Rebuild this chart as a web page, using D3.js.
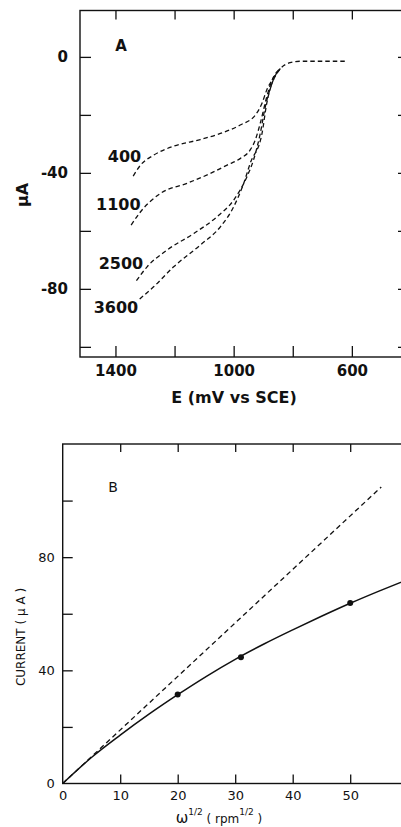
<!DOCTYPE html>
<html>
<head>
<meta charset="utf-8">
<script src="https://cdn.jsdelivr.net/npm/d3@7"></script>
<style>
  body { margin: 0; background: #fff; }
  svg { display: block; }
  .pa text { font-family: "DejaVu Sans", sans-serif; font-weight: bold; fill: #111; }
  .pb text { font-family: "DejaVu Sans", sans-serif; fill: #111; }
</style>
</head>
<body>
<svg id="chart" width="401" height="827"></svg>
<script>
// Panel A: current vs potential at several rotation rates (rpm)
const rates = ['400', '1100', '2500', '3600'];
const potentials = [
  [1340, 1315, 1271, 1203, 1113, 1045, 978, 927, 904, 888, 870, 842, 809, 775, 700, 617],
  [1347, 1315, 1248, 1158, 1079, 1022, 977, 944, 927, 910, 888, 870, 842],
  [1329, 1293, 1225, 1135, 1056, 1000, 955, 933, 910, 893, 870, 842],
  [1318, 1271, 1203, 1113, 1045, 1000, 966, 944, 904, 888, 870, 842]
];
const currents = [
  [-41.1, -37.3, -33.9, -30.8, -28.5, -26.4, -23.5, -20.1, -16.0, -11.4, -8.0, -4.0, -2.0, -1.5, -1.5, -1.5],
  [-58.0, -53.4, -47.1, -43.6, -40.2, -37.3, -35.0, -32.1, -28.7, -22.9, -13.8, -8.0, -4.0],
  [-77.2, -72.4, -66.6, -60.9, -55.1, -49.4, -41.3, -35.6, -26.4, -17.2, -9.1, -4.0],
  [-83.5, -79.3, -72.4, -64.9, -58.6, -51.7, -43.6, -36.7, -26.4, -16.0, -9.1, -4.0]
];
const rateLabelE = [1313, 1315, 1306, 1323];
const rateLabelI = [-36.2, -52.8, -73.2, -88.2];
const aTicksX = [1400, 1200, 1000, 800, 600];
const aLabelsX = [1400, 1000, 600];
const aTicksY = [0, -20, -40, -60, -80, -100];
const aLabelsY = [0, -40, -80];

// Panel B: limiting current vs square root of rotation rate
const omega = [0, 5, 10, 15, 20, 25, 30, 35, 40, 45, 50, 55, 60];
const fitCurrent = [0, 9.2, 17.1, 24.5, 31.4, 37.9, 43.9, 49.3, 54.3, 59.1, 63.7, 68.0, 72.1];
const levichOmega = [0, 55.4];
const levichCurrent = [0, 104.8];
const measOmega = [20, 31, 50];
const measCurrent = [31.5, 44.6, 63.8];
const bTicksX = [10, 20, 30, 40, 50, 60];
const bLabelsX = [0, 10, 20, 30, 40, 50];
const bTicksY = [20, 40, 60, 80, 100];
const bLabelsY = [0, 40, 80];

const plain = d => String(d);   // keep the hyphen, no thousands comma
const svg = d3.select('#chart');

// ---------- Panel A ----------
const xA = d3.scaleLinear().domain([1520, 410]).range([80, 408]);
const yA = d3.scaleLinear().domain([16, -103.5]).range([10.5, 357]);
const gA = svg.append('g').attr('class', 'pa');

gA.append('rect')
  .attr('x', xA.range()[0]).attr('y', yA.range()[0])
  .attr('width', xA.range()[1] - xA.range()[0])
  .attr('height', yA.range()[1] - yA.range()[0])
  .attr('fill', 'none').attr('stroke', '#111').attr('stroke-width', 1.4);

function tickMarks(g, axis) {
  g.call(axis);
  g.select('.domain').remove();
  g.selectAll('line').attr('stroke', '#111').attr('stroke-width', 1.3);
}
function tickLabels(g, axis, size) {
  g.call(axis);
  g.select('.domain').remove();
  g.selectAll('line').remove();
  g.selectAll('text').attr('font-size', size).attr('fill', '#111');
  g.attr('font-family', null).attr('font-size', null);
}

gA.append('g').attr('transform', `translate(0,${yA.range()[1]})`)
  .call(tickMarks, d3.axisBottom(xA).tickValues(aTicksX).tickSize(-11).tickFormat(''));
gA.append('g').attr('transform', `translate(0,${yA.range()[0]})`)
  .call(tickMarks, d3.axisTop(xA).tickValues(aTicksX).tickSize(-9).tickFormat(''));
gA.append('g').attr('transform', `translate(${xA.range()[0]},0)`)
  .call(tickMarks, d3.axisLeft(yA).tickValues(aTicksY).tickSize(-11).tickFormat(''));
gA.append('g').attr('transform', `translate(${xA.range()[1]},0)`)
  .call(tickMarks, d3.axisRight(yA).tickValues(aTicksY).tickSize(-10).tickFormat(''));

gA.append('g').attr('transform', `translate(0,${yA.range()[1]})`)
  .call(tickLabels, d3.axisBottom(xA).tickValues(aLabelsX).tickSize(0).tickPadding(8).tickFormat(plain), 15);
gA.append('g').attr('transform', `translate(${xA.range()[0]},0)`)
  .call(tickLabels, d3.axisLeft(yA).tickValues(aLabelsY).tickSize(0).tickPadding(12).tickFormat(plain), 15);

const lineA = d3.line().x(d => xA(d[0])).y(d => yA(d[1])).curve(d3.curveMonotoneX);
rates.forEach((r, i) => {
  const pts = potentials[i].map((e, j) => [e, currents[i][j]]);
  gA.append('path')
    .attr('d', lineA(pts))
    .attr('fill', 'none').attr('stroke', '#111')
    .attr('stroke-width', 1.3).attr('stroke-dasharray', '4.5,3');
  gA.append('text')
    .attr('x', xA(rateLabelE[i])).attr('y', yA(rateLabelI[i]))
    .attr('text-anchor', 'end').attr('font-size', 16)
    .text(r);
});

gA.append('text').attr('x', xA(1381)).attr('y', yA(2.1))
  .attr('text-anchor', 'middle').attr('font-size', 15).text('A');
gA.append('text').attr('x', 234).attr('y', 403)
  .attr('text-anchor', 'middle').attr('font-size', 16).text('E (mV vs SCE)');
gA.append('text').attr('transform', 'translate(28,195) rotate(-90)')
  .attr('text-anchor', 'middle').attr('font-size', 16).text('μA');

// ---------- Panel B ----------
const xB = d3.scaleLinear().domain([0, 60]).range([62.7, 407.7]);
const yB = d3.scaleLinear().domain([0, 120]).range([783.5, 444]);
const gB = svg.append('g').attr('class', 'pb');

gB.append('rect')
  .attr('x', xB.range()[0]).attr('y', yB.range()[1])
  .attr('width', xB.range()[1] - xB.range()[0])
  .attr('height', yB.range()[0] - yB.range()[1])
  .attr('fill', 'none').attr('stroke', '#111').attr('stroke-width', 1.4);

gB.append('g').attr('transform', `translate(0,${yB.range()[0]})`)
  .call(tickMarks, d3.axisBottom(xB).tickValues(bTicksX).tickSize(-9).tickFormat(''));
gB.append('g').attr('transform', `translate(0,${yB.range()[1]})`)
  .call(tickMarks, d3.axisTop(xB).tickValues(bTicksX).tickSize(-8).tickFormat(''));
gB.append('g').attr('transform', `translate(${xB.range()[0]},0)`)
  .call(tickMarks, d3.axisLeft(yB).tickValues(bTicksY).tickSize(-10).tickFormat(''));

gB.append('g').attr('transform', `translate(0,${yB.range()[0]})`)
  .call(tickLabels, d3.axisBottom(xB).tickValues(bLabelsX).tickSize(0).tickPadding(7).tickFormat(plain), 13);
gB.append('g').attr('transform', `translate(${xB.range()[0]},0)`)
  .call(tickLabels, d3.axisLeft(yB).tickValues(bLabelsY).tickSize(0).tickPadding(8).tickFormat(plain), 13);

const lineB = d3.line().x(d => xB(d[0])).y(d => yB(d[1]));
gB.append('path')
  .attr('d', lineB(levichOmega.map((w, j) => [w, levichCurrent[j]])))
  .attr('fill', 'none').attr('stroke', '#111')
  .attr('stroke-width', 1.3).attr('stroke-dasharray', '5,3.5');
gB.append('path')
  .attr('d', lineB.curve(d3.curveMonotoneX)(omega.map((w, j) => [w, fitCurrent[j]])))
  .attr('fill', 'none').attr('stroke', '#111').attr('stroke-width', 1.5);
gB.selectAll('circle').data(measOmega).enter().append('circle')
  .attr('cx', d => xB(d))
  .attr('cy', (d, j) => yB(measCurrent[j]))
  .attr('r', 3).attr('fill', '#111');

gB.append('text').attr('x', xB(8.75)).attr('y', yB(103))
  .attr('text-anchor', 'middle').attr('font-size', 14).text('B');

const xl = gB.append('text').attr('x', 219).attr('y', 823).attr('text-anchor', 'middle');
xl.append('tspan').attr('font-size', 15).text('ω');
xl.append('tspan').attr('font-size', 9).attr('dy', -8).text('1/2');
xl.append('tspan').attr('font-size', 12).attr('dy', 8).text(' ( rpm');
xl.append('tspan').attr('font-size', 9).attr('dy', -8).text('1/2');
xl.append('tspan').attr('font-size', 12).attr('dy', 8).text(' )');

gB.append('text').attr('transform', 'translate(25,637) rotate(-90)')
  .attr('text-anchor', 'middle').attr('font-size', 12).text('CURRENT  ( μ A )');
</script>
</body>
</html>
